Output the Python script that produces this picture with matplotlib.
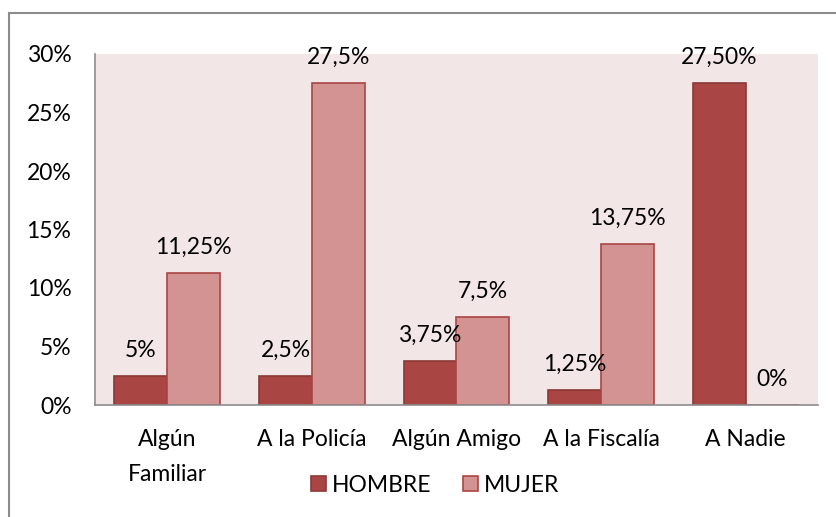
import numpy as np
import matplotlib.pyplot as plt
from matplotlib.patches import Rectangle

categories = ['Algún\nFamiliar', 'A la Policía', 'Algún Amigo', 'A la Fiscalía', 'A Nadie']
hombre = [2.5, 2.5, 3.75, 1.25, 27.5]
mujer = [11.25, 27.5, 7.5, 13.75, 0]
hombre_labels = ['5%', '2,5%', '3,75%', '1,25%', '27,50%']
mujer_labels = ['11,25%', '27,5%', '7,5%', '13,75%', '0%']
yticks = [0, 5, 10, 15, 20, 25, 30]

plt.rcParams['font.family'] = ['Lato', 'DejaVu Sans']
fs = 16.5

W, H = 836, 517
fig = plt.figure(figsize=(W / 100, H / 100), dpi=100)
ax = fig.add_axes([95 / W, 1 - 405 / H, (818 - 95) / W, (405 - 54) / H])

x = np.arange(len(categories))
bw = 0.366
b1 = ax.bar(x - bw / 2, hombre, bw, color='#A94643', edgecolor='#8C3836', linewidth=1.2, label='HOMBRE')
b2 = ax.bar(x + bw / 2, mujer, bw, color='#D39392', edgecolor='#A94643', linewidth=1.2, label='MUJER')

for rect, lab in zip(b1, hombre_labels):
    ax.annotate(lab, (rect.get_x() + rect.get_width() / 2, rect.get_height()),
                xytext=(0, 18.5), textcoords='offset points', ha='center', va='center', fontsize=fs)
for rect, lab in zip(b2, mujer_labels):
    ax.annotate(lab, (rect.get_x() + rect.get_width() / 2, rect.get_height()),
                xytext=(0, 18.5), textcoords='offset points', ha='center', va='center', fontsize=fs)

ax.set_facecolor('#F2E6E6')
ax.set_xlim(-0.5, len(categories) - 0.5)
ax.set_ylim(0, 30)
ax.set_yticks(yticks)
ax.set_yticklabels([f'{t}%' for t in yticks], fontsize=fs)
ax.set_xticks(x)
ax.set_xticklabels(categories, fontsize=fs, linespacing=1.8)
ax.tick_params(axis='y', length=0, pad=17)
ax.tick_params(axis='x', length=0, pad=17.5)
for s in ['top', 'right']:
    ax.spines[s].set_visible(False)
for s in ['left', 'bottom']:
    ax.spines[s].set_color('#8C8C8C')
    ax.spines[s].set_linewidth(1.2)

fig.legend(handles=[b1, b2], loc='center', bbox_to_anchor=(435 / W, 1 - 485 / H), ncol=2,
           frameon=False, fontsize=fs, handlelength=0.65, handleheight=0.65, handletextpad=0.25,
           columnspacing=1.4)

# outer chart border
fig.patches.append(Rectangle((9 / W, -0.05), 1.1, 1 - 13 / H + 0.05, transform=fig.transFigure,
                             fill=False, edgecolor='#8C8C8C', linewidth=1.5))

fig.savefig('out.png', dpi=100)
